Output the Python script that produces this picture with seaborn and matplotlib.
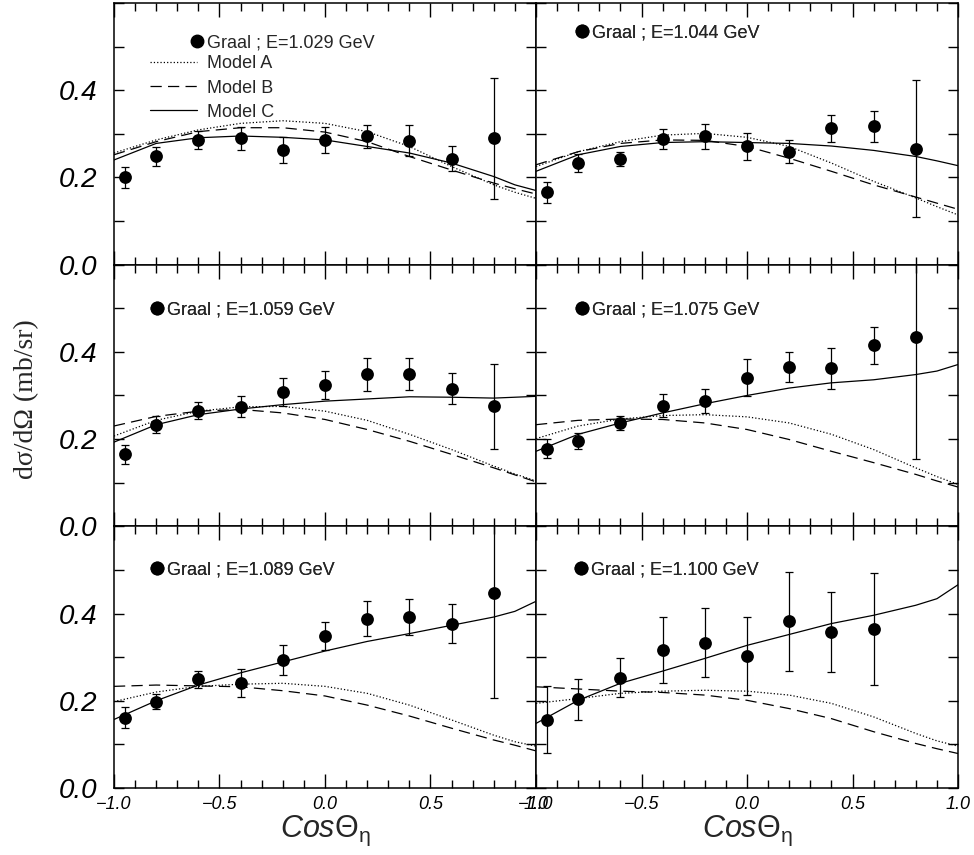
import numpy as np
import pandas as pd
import matplotlib
matplotlib.use("Agg")
import matplotlib.pyplot as plt
from matplotlib.lines import Line2D
from matplotlib.ticker import MultipleLocator
import seaborn as sns

# GRAAL eta photoproduction points and three model curves
energies = ["1.029", "1.044", "1.059", "1.075", "1.089", "1.100"]
cos_pts = [-0.95, -0.8, -0.6, -0.4, -0.2, 0.0, 0.2, 0.4, 0.6, 0.8]
cos_model = [-1.0, -0.8, -0.6, -0.4, -0.2, 0.0, 0.2, 0.4, 0.6, 0.8, 0.9, 1.0]

sig_1029 = [0.200, 0.248, 0.286, 0.290, 0.263, 0.286, 0.294, 0.284, 0.243, 0.290]
err_1029 = [0.025, 0.022, 0.021, 0.026, 0.030, 0.030, 0.026, 0.036, 0.029, 0.139]
sig_1044 = [0.166, 0.233, 0.242, 0.288, 0.294, 0.271, 0.259, 0.313, 0.317, 0.266]
err_1044 = [0.024, 0.020, 0.016, 0.023, 0.028, 0.032, 0.026, 0.031, 0.036, 0.157]
sig_1059 = [0.165, 0.233, 0.265, 0.274, 0.308, 0.323, 0.349, 0.349, 0.316, 0.275]
err_1059 = [0.021, 0.019, 0.019, 0.024, 0.032, 0.032, 0.038, 0.036, 0.036, 0.097]
sig_1075 = [0.178, 0.195, 0.237, 0.277, 0.287, 0.341, 0.365, 0.362, 0.415, 0.434]
err_1075 = [0.022, 0.018, 0.017, 0.027, 0.027, 0.043, 0.034, 0.048, 0.042, 0.280]
sig_1089 = [0.161, 0.198, 0.249, 0.241, 0.293, 0.349, 0.388, 0.392, 0.377, 0.448]
err_1089 = [0.024, 0.017, 0.020, 0.032, 0.035, 0.032, 0.040, 0.041, 0.044, 0.241]
sig_1100 = [0.157, 0.204, 0.253, 0.316, 0.333, 0.303, 0.382, 0.358, 0.365, np.nan]
err_1100 = [0.077, 0.047, 0.045, 0.075, 0.079, 0.089, 0.113, 0.091, 0.128, np.nan]

modelA_1029 = [0.256, 0.286, 0.309, 0.324, 0.330, 0.324, 0.305, 0.271, 0.225, 0.183, 0.166, 0.152]
modelB_1029 = [0.252, 0.282, 0.305, 0.314, 0.314, 0.304, 0.282, 0.248, 0.217, 0.187, 0.174, 0.162]
modelC_1029 = [0.240, 0.278, 0.291, 0.295, 0.292, 0.286, 0.271, 0.256, 0.233, 0.202, 0.183, 0.170]

modelA_1044 = [0.225, 0.259, 0.282, 0.297, 0.301, 0.292, 0.271, 0.233, 0.191, 0.153, 0.133, 0.114]
modelB_1044 = [0.229, 0.259, 0.278, 0.286, 0.285, 0.271, 0.244, 0.214, 0.183, 0.155, 0.141, 0.127]
modelC_1044 = [0.214, 0.252, 0.271, 0.280, 0.282, 0.280, 0.278, 0.272, 0.262, 0.248, 0.238, 0.227]

modelA_1059 = [0.207, 0.243, 0.264, 0.274, 0.275, 0.264, 0.243, 0.211, 0.176, 0.138, 0.120, 0.104]
modelB_1059 = [0.230, 0.252, 0.264, 0.268, 0.260, 0.245, 0.222, 0.195, 0.165, 0.134, 0.118, 0.102]
modelC_1059 = [0.193, 0.233, 0.256, 0.269, 0.279, 0.287, 0.292, 0.297, 0.296, 0.294, 0.296, 0.298]

modelA_1075 = [0.201, 0.230, 0.246, 0.254, 0.256, 0.251, 0.237, 0.211, 0.176, 0.134, 0.114, 0.096]
modelB_1075 = [0.233, 0.243, 0.246, 0.245, 0.237, 0.222, 0.199, 0.172, 0.146, 0.119, 0.104, 0.090]
modelC_1075 = [0.172, 0.211, 0.237, 0.260, 0.281, 0.300, 0.317, 0.329, 0.336, 0.348, 0.356, 0.371]

modelA_1089 = [0.198, 0.220, 0.233, 0.238, 0.240, 0.233, 0.217, 0.190, 0.156, 0.121, 0.106, 0.096]
modelB_1089 = [0.233, 0.236, 0.234, 0.232, 0.223, 0.211, 0.190, 0.165, 0.137, 0.110, 0.098, 0.085]
modelC_1089 = [0.157, 0.200, 0.236, 0.264, 0.289, 0.314, 0.336, 0.354, 0.373, 0.392, 0.405, 0.428]

modelA_1100 = [0.194, 0.205, 0.217, 0.222, 0.224, 0.222, 0.213, 0.194, 0.163, 0.125, 0.108, 0.096]
modelB_1100 = [0.232, 0.227, 0.222, 0.219, 0.213, 0.201, 0.182, 0.159, 0.129, 0.102, 0.090, 0.079]
modelC_1100 = [0.148, 0.201, 0.240, 0.268, 0.297, 0.327, 0.352, 0.377, 0.396, 0.419, 0.434, 0.466]

model_names = ["Model A", "Model B", "Model C"]

panels = [
    (sig_1029, err_1029, modelA_1029, modelB_1029, modelC_1029),
    (sig_1044, err_1044, modelA_1044, modelB_1044, modelC_1044),
    (sig_1059, err_1059, modelA_1059, modelB_1059, modelC_1059),
    (sig_1075, err_1075, modelA_1075, modelB_1075, modelC_1075),
    (sig_1089, err_1089, modelA_1089, modelB_1089, modelC_1089),
    (sig_1100, err_1100, modelA_1100, modelB_1100, modelC_1100),
]

# where the "Graal" legend sits in each panel (axes fraction)
legend_pos = [(0.182, 0.847), (0.094, 0.885), (0.087, 0.828),
              (0.094, 0.828), (0.087, 0.832), (0.092, 0.832)]

line_styles = [":", (0, (9, 5)), "-"]

sns.set_theme(style="ticks")
plt.rcParams.update({
    "font.family": ["Liberation Sans", "DejaVu Sans"],
    "axes.edgecolor": "black",
    "axes.linewidth": 1.1,
    "xtick.color": "black",
    "ytick.color": "black",
    "mathtext.fontset": "custom",
    "mathtext.rm": "Liberation Sans",
    "mathtext.it": "Liberation Sans:italic",
    "mathtext.bf": "Liberation Sans:bold",
})

fig, axes = plt.subplots(3, 2, figsize=(9.74, 8.55), dpi=100)
fig.subplots_adjust(left=0.117, right=0.9836, bottom=0.0784, top=0.9965,
                    wspace=0, hspace=0)

yticks = [0.0, 0.1, 0.2, 0.3, 0.4, 0.5, 0.6]
ylabels = ["0.0", "", "0.2", "", "0.4", "", ""]
xticks = [-1.0, -0.5, 0.0, 0.5, 1.0]
xlabels = [f"{v:.1f}".replace("-", "\u2212") for v in xticks]

for i, ax in enumerate(axes.flat):
    sig, err, ma, mb, mc = panels[i]
    curves = pd.DataFrame({"cos": cos_model, "Model A": ma, "Model B": mb, "Model C": mc})
    for name, ls in zip(model_names, line_styles):
        sns.lineplot(data=curves, x="cos", y=name, ax=ax, color="black",
                     lw=0.9, linestyle=ls)

    ax.errorbar(cos_pts, sig, yerr=err, fmt="none", ecolor="black",
                elinewidth=0.9, capsize=2.6, capthick=0.9, zorder=3)
    sns.scatterplot(x=cos_pts, y=sig, ax=ax, color="black", s=85,
                    linewidth=0, zorder=4)

    ax.set_xlim(-1, 1)
    ax.set_ylim(0, 0.6)
    ax.set_xlabel("")
    ax.set_ylabel("")
    ax.set_yticks(yticks, labels=ylabels, fontsize=20, fontstyle="italic")
    ax.set_xticks(xticks, labels=xlabels, fontsize=13, fontstyle="italic")
    ax.xaxis.set_minor_locator(MultipleLocator(0.1))
    ax.tick_params(which="both", direction="in", top=True, right=True,
                   width=1, color="black")
    ax.tick_params(axis="x", which="major", length=10, pad=6)
    ax.tick_params(axis="x", which="minor", length=6)
    ax.tick_params(axis="y", which="major", length=7, pad=12)

    row, col = divmod(i, 2)
    if col == 1:
        ax.tick_params(labelleft=False)
    if row < 2:
        ax.tick_params(labelbottom=False)
    else:
        ax.set_xlabel(r"$\mathit{Cos}\Theta_{\mathrm{\eta}}$", fontsize=22, labelpad=0)

    graal = Line2D([], [], marker="o", color="black", linestyle="none", markersize=9)
    leg = ax.legend([graal], [f"Graal ; E={energies[i]} GeV"], loc="center left",
                    bbox_to_anchor=legend_pos[i], frameon=False, fontsize=13,
                    handlelength=0.7, handletextpad=0.2, borderpad=0,
                    borderaxespad=0)
    ax.add_artist(leg)
    if i == 0:
        handles = [Line2D([], [], color="black", lw=0.9, linestyle=ls) for ls in line_styles]
        ax.legend(handles, model_names, loc="upper left", bbox_to_anchor=(0.085, 0.80),
                  frameon=False, fontsize=13, handlelength=2.6, handletextpad=0.55,
                  labelspacing=0.4, borderpad=0, borderaxespad=0)

fig.text(0.027, 0.533, "d\u03c3/d\u03a9 (mb/sr)", rotation=90, fontsize=20,
         family="Liberation Serif", ha="center", va="center")

fig.savefig("out.png", dpi=100)
